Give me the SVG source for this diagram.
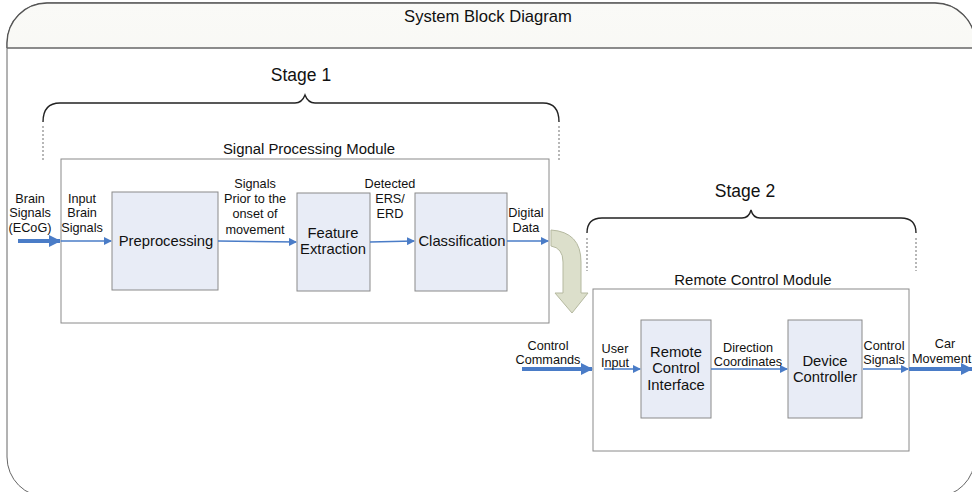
<svg xmlns="http://www.w3.org/2000/svg" width="972" height="492" viewBox="0 0 972 492">
<defs>
<linearGradient id="hdr" x1="0" y1="0" x2="0" y2="1">
<stop offset="0" stop-color="#fafaf7"/>
<stop offset="1" stop-color="#ededE6"/>
</linearGradient>
<clipPath id="hclip"><rect x="0" y="0" width="980" height="48"/></clipPath>
<marker id="ah" markerWidth="8" markerHeight="8" refX="7" refY="4" orient="auto" markerUnits="userSpaceOnUse">
<path d="M0,0 L8,4 L0,8 z" fill="#4a7cc7"/>
</marker>
<marker id="ahb" markerWidth="12" markerHeight="12" refX="11" refY="6" orient="auto" markerUnits="userSpaceOnUse">
<path d="M0,0 L12,6 L0,12 z" fill="#4a7cc7"/>
</marker>
</defs>
<style>
text{font-family:"Liberation Sans",Arial,sans-serif;fill:#111;text-anchor:middle}
.lbl{font-size:12.7px}
.box{font-size:14.8px}
.ttl{font-size:14.9px}
.stg{font-size:17.5px}
.blk{fill:#e8ecf6;stroke:#8a8a8a;stroke-width:1}
.mod{fill:#ffffff;stroke:#8a8a8a;stroke-width:1}
.thin{stroke:#4a7cc7;stroke-width:1.6;fill:none;marker-end:url(#ah)}
.thick{stroke:#4a7cc7;stroke-width:4;fill:none;marker-end:url(#ahb)}
.brace{fill:none;stroke:#222;stroke-width:1.4}
.dash{stroke:#888;stroke-width:1.2;stroke-dasharray:2,2;fill:none}
</style>
<g id="frame">
<rect x="7" y="3" width="968" height="494" rx="40" ry="40" fill="#ffffff" stroke="#666" stroke-width="1"/>
<rect x="7" y="3" width="968" height="494" rx="40" ry="40" fill="url(#hdr)" stroke="#555" stroke-width="1.3" clip-path="url(#hclip)"/>
<line x1="7" y1="48" x2="975" y2="48" stroke="#666" stroke-width="1.5"/>
<text x="488" y="22" style="font-size:16.6px">System Block Diagram</text>
</g>
<g id="stage1">
<text class="stg" x="301" y="81">Stage 1</text>
<path class="brace" d="M43,122 Q43,103 60,103 L295,103 Q302,103 305,95 Q308,103 315,103 L543,103 Q559,103 559,122"/>
<line class="dash" x1="43" y1="126" x2="43" y2="160"/>
<line class="dash" x1="559" y1="126" x2="559" y2="160"/>
</g>
<g id="signal-processing-module">
<text class="ttl" x="309" y="154">Signal Processing Module</text>
<rect class="mod" x="61" y="159" width="488" height="164"/>
</g>
<g id="preprocessing">
<rect class="blk" x="112" y="192" width="106" height="98"/>
<text class="box" x="166" y="246">Preprocessing</text>
</g>
<g id="feature-extraction">
<rect class="blk" x="297" y="193" width="73" height="98"/>
<text class="box" x="333" y="238">Feature</text>
<text class="box" x="333" y="254">Extraction</text>
</g>
<g id="classification">
<rect class="blk" x="415" y="193" width="92" height="98"/>
<text class="box" x="462" y="246">Classification</text>
</g>
<g id="stage2">
<text class="stg" x="745" y="197">Stage 2</text>
<path class="brace" d="M587,233 Q587,218 602,218 L742,218 Q749,218 751,210 Q753,218 760,218 L901,218 Q916,218 916,233"/>
<line class="dash" x1="587" y1="238" x2="587" y2="271"/>
<line class="dash" x1="916" y1="238" x2="916" y2="271"/>
</g>
<g id="remote-control-module">
<text class="ttl" x="753" y="285">Remote Control Module</text>
<rect class="mod" x="593" y="289" width="316" height="162"/>
</g>
<g id="remote-control-interface">
<rect class="blk" x="641" y="320" width="70" height="98"/>
<text class="box" x="676" y="357">Remote</text>
<text class="box" x="676" y="373">Control</text>
<text class="box" x="676" y="390">Interface</text>
</g>
<g id="device-controller">
<rect class="blk" x="788" y="320" width="74" height="98"/>
<text class="box" x="825" y="366">Device</text>
<text class="box" x="825" y="382">Controller</text>
</g>
<g id="connectors">
<line class="thick" x1="18" y1="241" x2="60" y2="241"/>
<line class="thin" x1="61" y1="241" x2="111" y2="241"/>
<line class="thin" x1="218" y1="241" x2="296" y2="242"/>
<line class="thin" x1="370" y1="242" x2="414" y2="241"/>
<line class="thin" x1="507" y1="241" x2="548" y2="241"/>
<path d="M551,230 Q581,232 581,262 L581,293 L588,293 L572,313 L555,293 L563,293 L563,262 Q563,248 551,246 Z" fill="#dcdfcb" stroke="#b5b9a0" stroke-width="1"/>
<line class="thick" x1="522" y1="369" x2="592" y2="369"/>
<line class="thin" x1="604" y1="369" x2="640" y2="369"/>
<line class="thin" x1="711" y1="369" x2="787" y2="369"/>
<line class="thin" x1="863" y1="369" x2="908" y2="369"/>
<line class="thick" x1="909" y1="369" x2="972" y2="369"/>
</g>
<g id="labels">
<text class="lbl" x="30" y="203">Brain</text>
<text class="lbl" x="30" y="217">Signals</text>
<text class="lbl" x="30" y="232">(ECoG)</text>
<text class="lbl" x="82" y="203">Input</text>
<text class="lbl" x="82" y="217">Brain</text>
<text class="lbl" x="82" y="232">Signals</text>
<text class="lbl" x="255" y="188">Signals</text>
<text class="lbl" x="255" y="203">Prior to the</text>
<text class="lbl" x="255" y="218">onset of</text>
<text class="lbl" x="255" y="234">movement</text>
<text class="lbl" x="390" y="188">Detected</text>
<text class="lbl" x="390" y="203">ERS/</text>
<text class="lbl" x="390" y="218">ERD</text>
<text class="lbl" x="526" y="217">Digital</text>
<text class="lbl" x="526" y="232">Data</text>
<text class="lbl" x="548" y="350">Control</text>
<text class="lbl" x="548" y="364">Commands</text>
<text class="lbl" x="615" y="353">User</text>
<text class="lbl" x="615" y="367">Input</text>
<text class="lbl" x="748" y="352">Direction</text>
<text class="lbl" x="748" y="366">Coordinates</text>
<text class="lbl" x="884" y="350">Control</text>
<text class="lbl" x="884" y="364">Signals</text>
<text class="lbl" x="945" y="348">Car</text>
<text class="lbl" x="912" y="363" style="text-anchor:start">Movement</text>
</g>
</svg>
